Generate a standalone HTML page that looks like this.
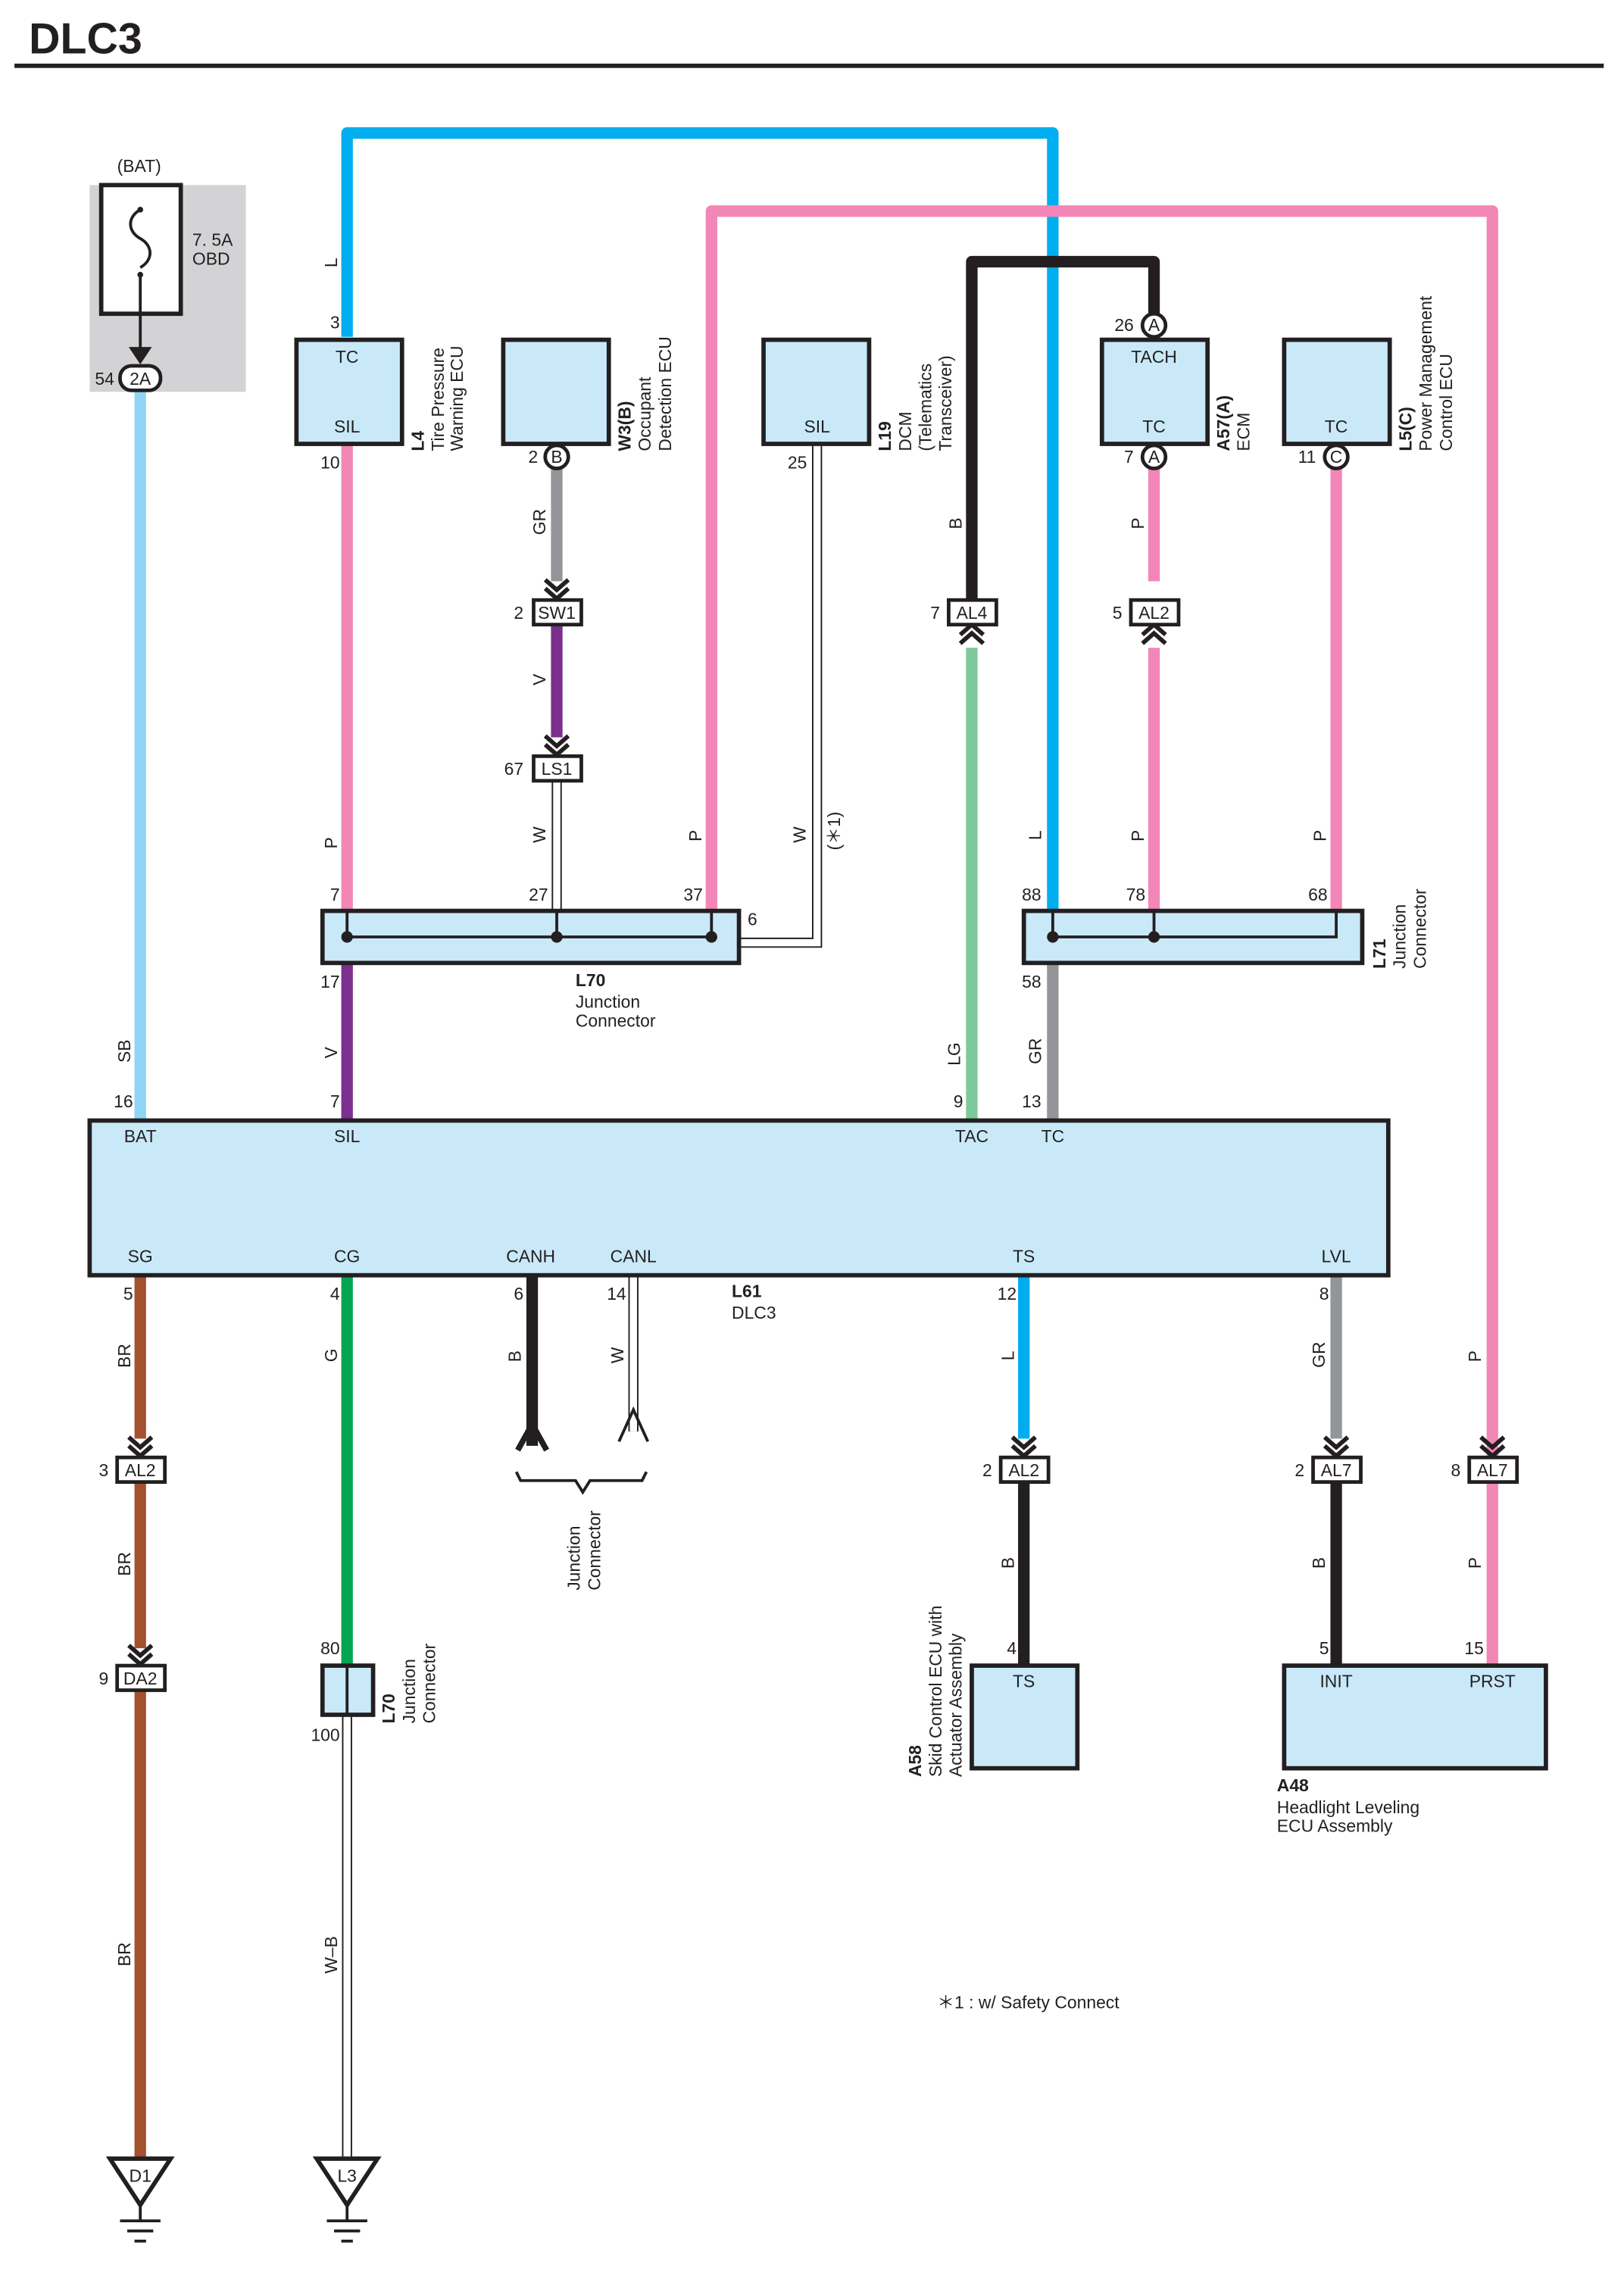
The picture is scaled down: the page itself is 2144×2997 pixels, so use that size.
<!DOCTYPE html>
<html><head><meta charset="utf-8"><style>
html,body{margin:0;padding:0;background:#fff;}
svg{display:block;}
text{font-family:"Liberation Sans",sans-serif;font-size:12px;fill:#231f20;}
.b{font-weight:bold;}
</style></head><body>
<svg width="2144" height="2997" viewBox="0 0 1123 1570" preserveAspectRatio="none" xmlns="http://www.w3.org/2000/svg">
<defs>
<g id="chev"><polyline points="-8,-14 0,-7 8,-14" fill="none" stroke="#231f20" stroke-width="3"/><polyline points="-8,-8 0,-1 8,-8" fill="none" stroke="#231f20" stroke-width="3"/></g>
<g id="chevu"><polyline points="-8,14 0,7 8,14" fill="none" stroke="#231f20" stroke-width="3"/><polyline points="-8,8 0,1 8,8" fill="none" stroke="#231f20" stroke-width="3"/></g>
<g id="gnd"><polygon points="-21,0 21,0 0,32" fill="#fff" stroke="#231f20" stroke-width="3"/><line x1="0" y1="32" x2="0" y2="43" stroke="#231f20" stroke-width="2"/><line x1="-14" y1="43" x2="14" y2="43" stroke="#231f20" stroke-width="2"/><line x1="-9" y1="50" x2="9" y2="50" stroke="#231f20" stroke-width="2"/><line x1="-4" y1="57" x2="4" y2="57" stroke="#231f20" stroke-width="2"/></g>
</defs>
<text x="20" y="37" class="b" style="font-size:30px">DLC3</text>
<rect x="10" y="44" width="1099" height="3" fill="#231f20"/>

<!-- fuse -->
<rect x="62" y="128" width="108" height="143" fill="#d3d3d5"/>
<rect x="70" y="128" width="55" height="89" fill="#fff" stroke="#231f20" stroke-width="3"/>
<path d="M97,145 C88,150 88,160 97,165 C106,170 106,180 97,185" fill="none" stroke="#231f20" stroke-width="2"/>
<circle cx="97" cy="145" r="2" fill="#231f20"/><circle cx="97" cy="190" r="2" fill="#231f20"/>
<line x1="97" y1="190" x2="97" y2="250" stroke="#231f20" stroke-width="2"/>
<polygon points="89,240 105,240 97,252" fill="#231f20"/>
<text x="81" y="119">(BAT)</text><text x="133" y="170">7. 5A</text><text x="133" y="183">OBD</text>

<!-- wires -->
<g fill="none" stroke-width="8" stroke-linejoin="round">
<line x1="97" y1="270" x2="97" y2="775" stroke="#8fd4f5"/>
<polyline points="240,233 240,92 728,92 728,630" stroke="#00aeef"/>
<polyline points="492,630 492,146 1032,146 1032,1008" stroke="#f287b7"/>
<polyline points="672,415 672,181 798,181 798,218" stroke="#231f20"/>
<line x1="240" y1="307" x2="240" y2="630" stroke="#f287b7"/>
<line x1="240" y1="666" x2="240" y2="775" stroke="#7b2f8e"/>
<line x1="385" y1="324" x2="385" y2="402" stroke="#939598"/>
<line x1="385" y1="432" x2="385" y2="510" stroke="#7b2f8e"/>
<line x1="798" y1="324" x2="798" y2="402" stroke="#f287b7"/>
<line x1="798" y1="448" x2="798" y2="630" stroke="#f287b7"/>
<line x1="672" y1="448" x2="672" y2="775" stroke="#7ec99b"/>
<line x1="924" y1="324" x2="924" y2="630" stroke="#f287b7"/>
<line x1="728" y1="666" x2="728" y2="775" stroke="#939598"/>
<line x1="97" y1="882" x2="97" y2="995" stroke="#a4512f"/>
<line x1="97" y1="1024" x2="97" y2="1140" stroke="#a4512f"/>
<line x1="97" y1="1168" x2="97" y2="1493" stroke="#a4512f"/>
<line x1="240" y1="882" x2="240" y2="1152" stroke="#00a651"/>
<line x1="368" y1="882" x2="368" y2="1000" stroke="#231f20"/>
<line x1="708" y1="882" x2="708" y2="995" stroke="#00aeef"/>
<line x1="708" y1="1024" x2="708" y2="1152" stroke="#231f20"/>
<line x1="924" y1="882" x2="924" y2="995" stroke="#939598"/>
<line x1="924" y1="1024" x2="924" y2="1152" stroke="#231f20"/>
<line x1="1032" y1="1024" x2="1032" y2="1152" stroke="#f287b7"/>
</g>
<!-- white wires -->
<g fill="none" stroke-linejoin="miter">
<polyline points="385,539 385,630" stroke="#231f20" stroke-width="7"/><polyline points="385,539 385,630" stroke="#fff" stroke-width="5"/>
<polyline points="565,307 565,652 511,652" stroke="#231f20" stroke-width="7"/><polyline points="565,307 565,652 511,652" stroke="#fff" stroke-width="5"/>
<polyline points="438,882 438,990" stroke="#231f20" stroke-width="7"/><polyline points="438,882 438,990" stroke="#fff" stroke-width="5"/>
<polyline points="240,1186 240,1493" stroke="#231f20" stroke-width="7"/><polyline points="240,1186 240,1493" stroke="#fff" stroke-width="5"/>
</g>
<polyline points="358,1003 368,985 378,1003" fill="none" stroke="#231f20" stroke-width="4"/>
<polyline points="428,997 438,975 448,997" fill="none" stroke="#231f20" stroke-width="2"/>
<path d="M357,1018 L360,1024 L398,1024 L403,1032 L408,1024 L444,1024 L447,1018" fill="none" stroke="#231f20" stroke-width="2"/>

<!-- chevrons -->
<use href="#chev" x="385" y="415"/><use href="#chev" x="385" y="523"/>
<use href="#chevu" x="672" y="431"/><use href="#chevu" x="798" y="431"/>
<use href="#chev" x="97" y="1008"/><use href="#chev" x="97" y="1152"/>
<use href="#chev" x="708" y="1008"/><use href="#chev" x="924" y="1008"/><use href="#chev" x="1032" y="1008"/>

<!-- boxes -->
<g fill="#c9e9f9" stroke="#231f20" stroke-width="3">
<rect x="205" y="235" width="73" height="72"/>
<rect x="348" y="235" width="73" height="72"/>
<rect x="528" y="235" width="73" height="72"/>
<rect x="762" y="235" width="73" height="72"/>
<rect x="888" y="235" width="73" height="72"/>
<rect x="62" y="775" width="898" height="107"/>
<rect x="223" y="630" width="288" height="36"/>
<rect x="708" y="630" width="234" height="36"/>
<rect x="672" y="1152" width="73" height="71"/>
<rect x="888" y="1152" width="181" height="71"/>
<rect x="223" y="1152" width="35" height="34"/>
</g>
<g stroke="#231f20" stroke-width="2" fill="none">
<polyline points="240,630 240,648 492,648 492,630"/><line x1="385" y1="630" x2="385" y2="648"/>
<polyline points="728,630 728,648 924,648 924,630"/><line x1="798" y1="630" x2="798" y2="648"/>
<line x1="240" y1="1152" x2="240" y2="1186"/>
</g>
<g fill="#231f20"><circle cx="240" cy="648" r="4"/><circle cx="385" cy="648" r="4"/><circle cx="492" cy="648" r="4"/><circle cx="728" cy="648" r="4"/><circle cx="798" cy="648" r="4"/></g>

<!-- connector labels -->
<g fill="#fff" stroke="#231f20" stroke-width="2.5">
<rect x="369" y="415" width="33" height="17"/><rect x="369" y="523" width="33" height="17"/>
<rect x="656" y="415" width="33" height="17"/><rect x="782" y="415" width="33" height="17"/>
<rect x="81" y="1008" width="33" height="17"/><rect x="81" y="1152" width="33" height="17"/>
<rect x="692" y="1008" width="33" height="17"/><rect x="908" y="1008" width="33" height="17"/><rect x="1016" y="1008" width="33" height="17"/>
<rect x="83" y="253" width="28" height="17" rx="8"/>
<circle cx="385" cy="316" r="8"/><circle cx="798" cy="316" r="8"/><circle cx="798" cy="225" r="8"/><circle cx="924" cy="316" r="8"/>
</g>
<g style="font-size:12px" text-anchor="middle">
<text x="385" y="428">SW1</text><text x="385" y="536">LS1</text><text x="672" y="428">AL4</text><text x="798" y="428">AL2</text>
<text x="97" y="1021">AL2</text><text x="97" y="1165">DA2</text><text x="708" y="1021">AL2</text><text x="924" y="1021">AL7</text><text x="1032" y="1021">AL7</text>
<text x="97" y="266">2A</text><text x="385" y="320">B</text><text x="798" y="320">A</text><text x="798" y="229">A</text><text x="924" y="320">C</text>
<text x="240" y="251">TC</text><text x="240" y="299">SIL</text><text x="565" y="299">SIL</text><text x="798" y="251">TACH</text><text x="798" y="299">TC</text><text x="924" y="299">TC</text>
<text x="97" y="790">BAT</text><text x="240" y="790">SIL</text><text x="672" y="790">TAC</text><text x="728" y="790">TC</text>
<text x="97" y="873">SG</text><text x="240" y="873">CG</text><text x="367" y="873">CANH</text><text x="438" y="873">CANL</text><text x="708" y="873">TS</text><text x="924" y="873">LVL</text>
<text x="708" y="1167">TS</text><text x="924" y="1167">INIT</text><text x="1032" y="1167">PRST</text>
</g>
<!-- pin numbers -->
<g text-anchor="end">
<text x="79" y="266">54</text><text x="235" y="227">3</text><text x="235" y="324">10</text><text x="372" y="320">2</text><text x="362" y="428">2</text><text x="362" y="536">67</text>
<text x="558" y="324">25</text><text x="784" y="229">26</text><text x="784" y="320">7</text><text x="910" y="320">11</text><text x="650" y="428">7</text><text x="776" y="428">5</text>
<text x="235" y="623">7</text><text x="379" y="623">27</text><text x="486" y="623">37</text><text x="720" y="623">88</text><text x="792" y="623">78</text><text x="918" y="623">68</text>
<text x="235" y="683">17</text><text x="720" y="683">58</text><text x="92" y="766">16</text><text x="235" y="766">7</text><text x="666" y="766">9</text><text x="720" y="766">13</text>
<text x="92" y="899">5</text><text x="235" y="899">4</text><text x="362" y="899">6</text><text x="433" y="899">14</text><text x="703" y="899">12</text><text x="919" y="899">8</text>
<text x="75" y="1021">3</text><text x="75" y="1165">9</text><text x="686" y="1021">2</text><text x="902" y="1021">2</text><text x="1010" y="1021">8</text>
<text x="235" y="1144">80</text><text x="235" y="1204">100</text><text x="703" y="1144">4</text><text x="919" y="1144">5</text><text x="1026" y="1144">15</text>
</g>
<text x="517" y="640">6</text>
<!-- wire color labels (rotated) -->
<g>
<text transform="translate(233,185) rotate(-90)">L</text>
<text transform="translate(377,370) rotate(-90)">GR</text>
<text transform="translate(377,474) rotate(-90)">V</text>
<text transform="translate(377,583) rotate(-90)">W</text>
<text transform="translate(233,587) rotate(-90)">P</text>
<text transform="translate(485,582) rotate(-90)">P</text>
<text transform="translate(557,583) rotate(-90)">W</text>
<text transform="translate(581,588) rotate(-90)">(＊1)</text>
<text transform="translate(665,366) rotate(-90)">B</text>
<text transform="translate(791,366) rotate(-90)">P</text>
<text transform="translate(720,581) rotate(-90)">L</text>
<text transform="translate(791,582) rotate(-90)">P</text>
<text transform="translate(917,582) rotate(-90)">P</text>
<text transform="translate(90,735) rotate(-90)">SB</text>
<text transform="translate(233,732) rotate(-90)">V</text>
<text transform="translate(664,737) rotate(-90)">LG</text>
<text transform="translate(720,736) rotate(-90)">GR</text>
<text transform="translate(90,946) rotate(-90)">BR</text>
<text transform="translate(233,942) rotate(-90)">G</text>
<text transform="translate(360,942) rotate(-90)">B</text>
<text transform="translate(431,943) rotate(-90)">W</text>
<text transform="translate(701,941) rotate(-90)">L</text>
<text transform="translate(916,946) rotate(-90)">GR</text>
<text transform="translate(1024,942) rotate(-90)">P</text>
<text transform="translate(90,1090) rotate(-90)">BR</text>
<text transform="translate(701,1085) rotate(-90)">B</text>
<text transform="translate(916,1085) rotate(-90)">B</text>
<text transform="translate(1024,1085) rotate(-90)">P</text>
<text transform="translate(90,1360) rotate(-90)">BR</text>
<text transform="translate(233,1365) rotate(-90)">W–B</text>
</g>
<!-- component labels -->
<g>
<text transform="translate(293,312) rotate(-90)"><tspan class="b">L4</tspan></text>
<text transform="translate(307,312) rotate(-90)">Tire Pressure</text>
<text transform="translate(320,312) rotate(-90)">Warning ECU</text>
<text transform="translate(436,312) rotate(-90)"><tspan class="b">W3(B)</tspan></text>
<text transform="translate(450,312) rotate(-90)">Occupant</text>
<text transform="translate(464,312) rotate(-90)">Detection ECU</text>
<text transform="translate(616,312) rotate(-90)"><tspan class="b">L19</tspan></text>
<text transform="translate(630,312) rotate(-90)">DCM</text>
<text transform="translate(644,312) rotate(-90)">(Telematics</text>
<text transform="translate(658,312) rotate(-90)">Transceiver)</text>
<text transform="translate(850,312) rotate(-90)"><tspan class="b">A57(A)</tspan></text>
<text transform="translate(864,312) rotate(-90)">ECM</text>
<text transform="translate(976,312) rotate(-90)"><tspan class="b">L5(C)</tspan></text>
<text transform="translate(990,312) rotate(-90)">Power Management</text>
<text transform="translate(1004,312) rotate(-90)">Control ECU</text>
<text transform="translate(958,670) rotate(-90)"><tspan class="b">L71</tspan></text>
<text transform="translate(972,670) rotate(-90)">Junction</text>
<text transform="translate(986,670) rotate(-90)">Connector</text>
<text transform="translate(273,1192) rotate(-90)"><tspan class="b">L70</tspan></text>
<text transform="translate(287,1192) rotate(-90)">Junction</text>
<text transform="translate(301,1192) rotate(-90)">Connector</text>
<text transform="translate(401,1100) rotate(-90)">Junction</text>
<text transform="translate(415,1100) rotate(-90)">Connector</text>
<text transform="translate(637,1229) rotate(-90)"><tspan class="b">A58</tspan></text>
<text transform="translate(651,1229) rotate(-90)">Skid Control ECU with</text>
<text transform="translate(665,1229) rotate(-90)">Actuator Assembly</text>
</g>
<text x="398" y="682" class="b">L70</text><text x="398" y="697">Junction</text><text x="398" y="710">Connector</text>
<text x="506" y="897" class="b">L61</text><text x="506" y="912">DLC3</text>
<text x="883" y="1239" class="b">A48</text><text x="883" y="1254">Headlight Leveling</text><text x="883" y="1267">ECU Assembly</text>
<text x="648" y="1389">＊1 : w/ Safety Connect</text>

<!-- grounds -->
<use href="#gnd" x="97" y="1493"/><use href="#gnd" x="240" y="1493"/>
<text x="97" y="1509" text-anchor="middle">D1</text><text x="240" y="1509" text-anchor="middle">L3</text>
</svg>
</body></html>
